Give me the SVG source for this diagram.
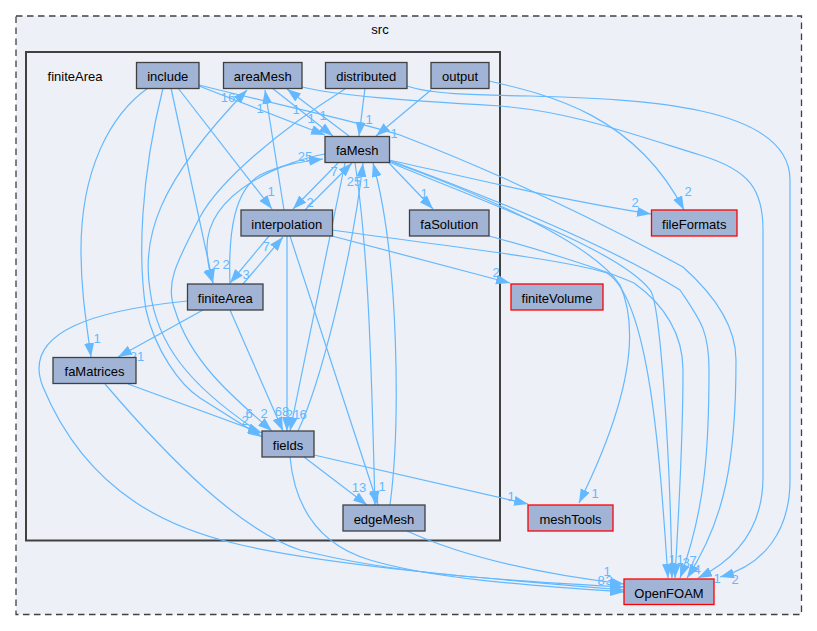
<svg xmlns="http://www.w3.org/2000/svg" width="817" height="631" viewBox="0 0 817 631">
<style>
text{font-family:"Liberation Sans",Arial,sans-serif;font-size:13px;text-anchor:middle;fill:#000}
.n rect{fill:#a2b4d6;stroke:#404040;stroke-width:1.3}
.r rect{fill:#a2b4d6;stroke:#f00;stroke-width:1.3}
#edges path{fill:none;stroke:#63b8ff;stroke-width:1.2;marker-end:url(#a)}
#edges text{fill:#63b8ff}
</style>
<defs><marker id="a" markerUnits="userSpaceOnUse" markerWidth="15" markerHeight="12" refX="14" refY="5" orient="auto"><polygon points="0,0 14,5 0,10" fill="#63b8ff"/></marker></defs>
<rect width="817" height="631" fill="#fff"/>
<g id="src"><rect x="16" y="16" width="785.500" height="598.500" fill="#edf0f7" stroke="#404040" stroke-width="1.300" stroke-dasharray="6.500,4.500"/><text x="380" y="34">src</text></g>
<g id="cluster-finiteArea"><rect x="26" y="52" width="474" height="488.500" fill="#edf0f7" stroke="#404040" stroke-width="2"/><text x="75" y="81">finiteArea</text></g>
<g id="edges">
<path d="M199,86L325,135"/>
<path d="M199,85C290,108 345,118 400,135C470,162 560,200 683,267C720,300 736,330 736,360C736,460 725,520 687,578"/>
<path d="M302,87C340,96 400,100 500,106C570,112 620,130 700,155C750,170 763,190 763,230L763,477C763,520 745,555 698,578"/>
<path d="M407,86C430,94 470,95 530,96C640,99 790,105 790,180L790,480C790,530 765,565 720,577"/>
<path d="M389,160C480,180 560,200 651,214"/>
<path d="M389,161C470,190 590,240 620,285C640,330 630,400 579,503"/>
<path d="M389,162C480,200 620,250 650,290C660,300 670,450 672,578"/>
<path d="M389,160C470,190 600,240 680,290C700,320 709,330 709,370C709,450 705,510 680,578"/>
<path d="M489,236C530,247 600,268 634,283C665,305 683,335 683,370C683,450 678,520 675,578"/>
<path d="M332,230C420,243 560,258 607,273C650,300 660,460 668,578"/>
<path d="M332,236L510,283"/>
<path d="M389,163L433,209"/>
<path d="M489,81C550,95 635,115 684,210"/>
<path d="M148,88C110,115 81,170 81,250C81,290 86,320 91,357"/>
<path d="M163,88C140,180 138,260 146,310C155,350 180,385 200,398L262,437"/>
<path d="M171,88L213,283"/>
<path d="M178,88L272,209"/>
<path d="M272,88L333,136"/>
<path d="M349,136L287,89"/>
<path d="M365,88L359,136"/>
<path d="M431,90L376,136"/>
<path d="M345,89C280,130 220,180 200,217C175,265 165,285 175,310C190,360 230,395 272,431"/>
<path d="M253,428C190,385 157,345 150,290C142,240 155,185 247,90"/>
<path d="M128,384L262,433"/>
<path d="M105,384C170,460 240,530 300,550C400,575 500,580 624,587"/>
<path d="M203,310L118,357"/>
<path d="M187,301C100,310 20,330 43,387C90,500 180,530 233,543C320,565 500,580 624,590"/>
<path d="M230,310L283,431"/>
<path d="M243,284L283,237"/>
<path d="M269,236L230,283"/>
<path d="M230,284C228,230 235,190 260,175C280,165 300,162 323,159"/>
<path d="M325,154C290,160 205,190 207,250C208,265 210,275 213,283"/>
<path d="M284,210L265,90"/>
<path d="M338,163L293,209"/>
<path d="M305,210L352,163"/>
<path d="M287,236L287,431"/>
<path d="M290,236L378,505"/>
<path d="M298,431C320,385 352,260 363,163"/>
<path d="M345,163L290,431"/>
<path d="M355,163C370,260 372,400 375,505"/>
<path d="M390,505C400,430 400,260 373,163"/>
<path d="M304,457L367,505"/>
<path d="M314,455L528,504"/>
<path d="M290,457C295,510 320,545 370,560C430,578 520,585 624,592"/>
<path d="M407,531C470,560 550,575 624,584"/>
<text x="228" y="102">16</text><text x="260" y="113">1</text><text x="296" y="114">1</text><text x="311" y="123">1</text><text x="323" y="120">1</text><text x="369" y="124">1</text><text x="394" y="138">1</text>
<text x="424" y="198">1</text>
<text x="305" y="161">25</text><text x="334" y="176">7</text><text x="310" y="207">2</text><text x="354" y="186">25</text><text x="366" y="188">1</text><text x="271" y="196">1</text>
<text x="266" y="251">7</text><text x="216" y="269">2</text><text x="226" y="269">2</text><text x="246" y="279">3</text>
<text x="97" y="343">1</text><text x="137" y="361">21</text>
<text x="249" y="418">6</text><text x="245" y="425">2</text><text x="264" y="418">2</text><text x="282" y="416">68</text><text x="293" y="419">21</text><text x="303" y="419">6</text>
<text x="359" y="492">13</text><text x="382" y="491">1</text>
<text x="511" y="501">1</text><text x="595" y="498">1</text><text x="496" y="277">2</text><text x="635" y="207">2</text><text x="688" y="196">2</text>
<text x="607" y="576">1</text><text x="601" y="585">8</text><text x="609" y="585">3</text>
<text x="672" y="564">1</text><text x="680" y="564">1</text><text x="686" y="567">3</text><text x="693" y="565">7</text><text x="697" y="574">4</text><text x="717" y="583">1</text><text x="735" y="584">2</text>
</g>
<g id="n-include" class="n"><rect x="136.500" y="62.500" width="62.500" height="26"/><text x="167.750" y="81">include</text></g>
<g id="n-areaMesh" class="n"><rect x="223.500" y="62.500" width="78.500" height="26"/><text x="262.750" y="81">areaMesh</text></g>
<g id="n-distributed" class="n"><rect x="325.500" y="62.500" width="81.500" height="26"/><text x="366.250" y="81">distributed</text></g>
<g id="n-output" class="n"><rect x="431" y="62.500" width="58" height="26"/><text x="460" y="81">output</text></g>
<g id="n-faMesh" class="n"><rect x="325" y="136.500" width="64.500" height="26"/><text x="357.250" y="155">faMesh</text></g>
<g id="n-interpolation" class="n"><rect x="241" y="210" width="91.500" height="26"/><text x="286.750" y="228.500">interpolation</text></g>
<g id="n-faSolution" class="n"><rect x="409.500" y="210" width="79.500" height="26"/><text x="449.250" y="228.500">faSolution</text></g>
<g id="n-fileFormats" class="r"><rect x="651.500" y="210" width="85.500" height="26"/><text x="694.250" y="228.500">fileFormats</text></g>
<g id="n-finiteArea" class="n"><rect x="187.500" y="284" width="75.500" height="26"/><text x="225.250" y="302.500">finiteArea</text></g>
<g id="n-finiteVolume" class="r"><rect x="511" y="284" width="92" height="26"/><text x="557" y="302.500">finiteVolume</text></g>
<g id="n-faMatrices" class="n"><rect x="53" y="357.500" width="83" height="26"/><text x="94.500" y="376">faMatrices</text></g>
<g id="n-fields" class="n"><rect x="262" y="431" width="52" height="26"/><text x="288" y="449.500">fields</text></g>
<g id="n-edgeMesh" class="n"><rect x="343" y="505" width="82" height="26"/><text x="384" y="523.500">edgeMesh</text></g>
<g id="n-meshTools" class="r"><rect x="528" y="505" width="85" height="26"/><text x="570.500" y="523.500">meshTools</text></g>
<g id="n-OpenFOAM" class="r"><rect x="624" y="579" width="90" height="25.500"/><text x="669" y="597.500">OpenFOAM</text></g>
</svg>
